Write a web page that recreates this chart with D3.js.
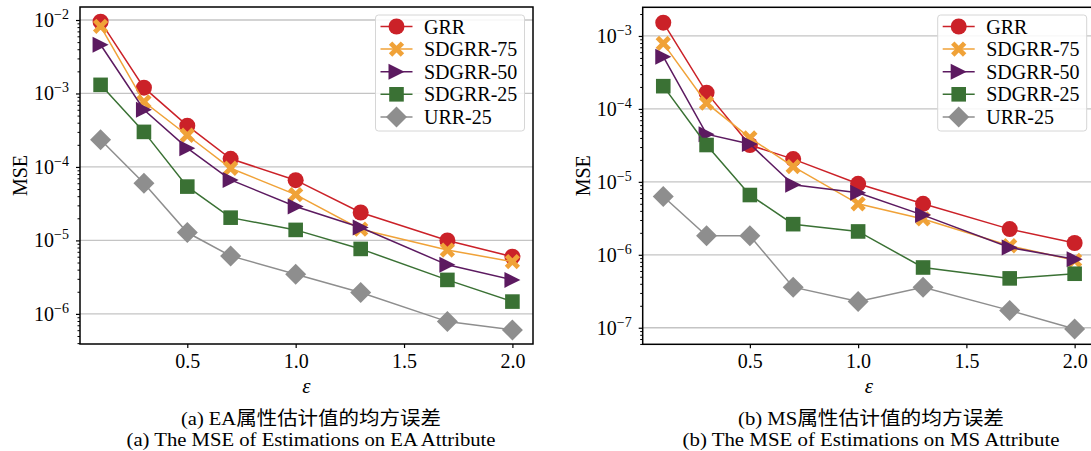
<!DOCTYPE html>
<html lang="en">
<head>
  <meta charset="UTF-8">
  <script src="https://cdn.jsdelivr.net/npm/d3@7"></script>
  <title>MSE of Estimations</title>
  <style>
    body { margin: 0; background: #fff; }
    svg text { font-family: "Liberation Serif", "Times New Roman", "Noto Sans CJK SC", serif; fill: #000; }
  </style>
</head>
<body>
  <svg width="1091" height="451" id="chart"></svg>
  <script>

    // epsilon values on the x-axis
    let eps = [0.1, 0.3, 0.5, 0.7, 1.0, 1.3, 1.7, 2.0];
    let seriesNames = ["GRR", "SDGRR-75", "SDGRR-50", "SDGRR-25", "URR-25"];
    let xTicks = [0.5, 1.0, 1.5, 2.0];

    // (a) EA attribute
    let eaGRR     = [9.5e-3, 1.2e-3, 3.65e-4, 1.29e-4, 6.6e-5, 2.4e-5, 1.0e-5, 6.0e-6];
    let eaSD75    = [8.2e-3, 7.7e-4, 2.7e-4, 9.6e-5, 4.2e-5, 1.42e-5, 7.4e-6, 5.15e-6];
    let eaSD50    = [4.6e-3, 6.0e-4, 1.8e-4, 6.65e-5, 2.9e-5, 1.5e-5, 4.65e-6, 2.9e-6];
    let eaSD25    = [1.31e-3, 3.0e-4, 5.4e-5, 2.04e-5, 1.39e-5, 7.66e-6, 2.9e-6, 1.47e-6];
    let eaURR     = [2.35e-4, 6.0e-5, 1.28e-5, 6.15e-6, 3.47e-6, 1.95e-6, 7.85e-7, 6.05e-7];

    // (b) MS attribute
    let msGRR     = [1.52e-3, 1.67e-4, 3.2e-5, 2.05e-5, 9.4e-6, 5.0e-6, 2.25e-6, 1.45e-6];
    let msSD75    = [7.9e-4, 1.2e-4, 4.0e-5, 1.62e-5, 5.0e-6, 3.1e-6, 1.33e-6, 8.4e-7];
    let msSD50    = [5.2e-4, 4.5e-5, 3.3e-5, 9.1e-6, 7.1e-6, 3.5e-6, 1.26e-6, 8.7e-7];
    let msSD25    = [2.05e-4, 3.2e-5, 6.6e-6, 2.63e-6, 2.09e-6, 6.7e-7, 4.75e-7, 5.5e-7];
    let msURR     = [6.3e-6, 1.82e-6, 1.82e-6, 3.6e-7, 2.29e-7, 3.6e-7, 1.73e-7, 9.6e-8];

    let colors  = ["#cb2128", "#f0a238", "#5c1a60", "#3a7134", "#8e8e8e"];
    let shapes  = ["circle", "x", "tri", "square", "diamond"];

    let svg = d3.select("#chart");

    // marker paths centred on 0,0
    function markerPath(shape) {
      if (shape == "circle") return d3.symbol(d3.symbolCircle, Math.PI * 8 * 8)();
      if (shape == "square") return "M-7.3,-7.3H7.3V7.3H-7.3Z";
      if (shape == "diamond") return "M0,-10.5L10.5,0L0,10.5L-10.5,0Z";
      if (shape == "tri") return "M8,0L-8,-8L-8,8Z";
      // filled X: a plus rotated by 45 degrees
      let h = 8.4, w = 2.4;
      let pts = [[w,-h],[w,-w],[h,-w],[h,w],[w,w],[w,h],[-w,h],[-w,w],[-h,w],[-h,-w],[-w,-w],[-w,-h]];
      let c = Math.SQRT1_2;
      return "M" + pts.map(p => [(p[0]-p[1])*c, (p[0]+p[1])*c].map(v => v.toFixed(2)).join(",")).join("L") + "Z";
    }

    function drawPanel(p) {
      let g = svg.append("g");

      let scaleX = d3.scaleLinear().domain([0.005, 2.095]).range([p.left, p.right]);
      let scaleY = d3.scaleLog().domain(p.yDomain).range([p.bottom, p.top]);

      // decades inside the domain
      let lo = Math.ceil(Math.log10(p.yDomain[0]) - 1e-9), hi = Math.floor(Math.log10(p.yDomain[1]) + 1e-9);
      let majors = d3.range(lo, hi + 1).map(e => Math.pow(10, e));
      let minors = [];
      for (let e = lo - 1; e <= hi; e++) {
        for (let m = 2; m <= 9; m++) {
          let v = m * Math.pow(10, e);
          if (v >= p.yDomain[0] && v <= p.yDomain[1]) minors.push(v);
        }
      }

      // horizontal grid
      g.selectAll(".grid").data(majors).enter().append("line")
        .attr("x1", p.left).attr("x2", p.right)
        .attr("y1", d => scaleY(d)).attr("y2", d => scaleY(d))
        .attr("stroke", "#c4c4c4").attr("stroke-width", 1.3);

      // y axis, major and minor ticks
      let yAxis = g.append("g").attr("transform", `translate(${p.left},0)`)
        .call(d3.axisLeft(scaleY).tickValues(majors).tickSize(4).tickPadding(7).tickFormat(""));
      yAxis.select(".domain").remove();
      yAxis.selectAll(".tick line").attr("stroke-width", 1.2);
      yAxis.selectAll(".tick text").each(function(d) {
        let t = d3.select(this).attr("font-size", 20).attr("dy", "0.32em");
        t.append("tspan").text("10");
        t.append("tspan").attr("dy", -8).attr("font-size", 14).text("\u2212" + Math.abs(Math.round(Math.log10(d))));
      });
      let yMinor = g.append("g").attr("transform", `translate(${p.left},0)`)
        .call(d3.axisLeft(scaleY).tickValues(minors).tickSize(2.5).tickFormat(""));
      yMinor.select(".domain").remove();
      yMinor.selectAll(".tick line").attr("stroke-width", 1);

      // x axis
      let xAxis = g.append("g").attr("transform", `translate(0,${p.bottom})`)
        .call(d3.axisBottom(scaleX).tickValues(xTicks).tickSize(4).tickPadding(6).tickFormat(d3.format(".1f")));
      xAxis.select(".domain").remove();
      xAxis.selectAll(".tick line").attr("stroke-width", 1.2);
      xAxis.selectAll(".tick text").attr("font-size", 20);

      // series: line then markers
      p.values.forEach((vals, i) => {
        let line = d3.line().x((d, j) => scaleX(eps[j])).y(d => scaleY(d));
        g.append("path").datum(vals)
          .attr("d", line).attr("fill", "none")
          .attr("stroke", colors[i]).attr("stroke-width", 1.5);
        g.selectAll(".m" + i).data(vals).enter().append("path")
          .attr("d", markerPath(shapes[i]))
          .attr("transform", (d, j) => `translate(${scaleX(eps[j])},${scaleY(d)})`)
          .attr("fill", colors[i]);
      });

      // frame
      g.append("rect")
        .attr("x", p.left).attr("y", p.top)
        .attr("width", p.right - p.left).attr("height", p.bottom - p.top)
        .attr("fill", "none").attr("stroke", "#000").attr("stroke-width", 1.5);

      // legend
      let lx = p.right - 8.5 - 149, ly = 15;
      let leg = g.append("g").attr("transform", `translate(${lx},${ly})`);
      leg.append("rect").attr("width", 149).attr("height", 116).attr("rx", 3)
        .attr("fill", "#fff").attr("fill-opacity", 0.85)
        .attr("stroke", "#d6d6d6").attr("stroke-width", 1);
      seriesNames.forEach((name, i) => {
        let yy = 11.5 + i * 22.6;
        leg.append("line").attr("x1", 5).attr("x2", 37).attr("y1", yy).attr("y2", yy)
          .attr("stroke", colors[i]).attr("stroke-width", 1.5);
        leg.append("path").attr("d", markerPath(shapes[i]))
          .attr("transform", `translate(21,${yy})`).attr("fill", colors[i]);
        leg.append("text").attr("x", 48.5).attr("y", yy + 7).attr("font-size", 20).text(name);
      });

      // axis labels
      let cx = (p.left + p.right) / 2;
      g.append("text").attr("transform", `translate(${p.left - 53},${(p.top + p.bottom) / 2}) rotate(-90)`)
        .attr("text-anchor", "middle").attr("font-size", 20).text("MSE");
      g.append("text").attr("x", cx).attr("y", 393).attr("text-anchor", "middle")
        .attr("font-size", 21).attr("font-style", "italic").text("\u03b5");

      // captions
      g.append("text").attr("x", p.capX).attr("y", 425).attr("text-anchor", "middle")
        .attr("font-size", 19).attr("textLength", p.capW[0]).attr("lengthAdjust", "spacingAndGlyphs")
        .text(p.captions[0]);
      g.append("text").attr("x", p.capX).attr("y", 446).attr("text-anchor", "middle")
        .attr("font-size", 18).attr("textLength", p.capW[1]).attr("lengthAdjust", "spacingAndGlyphs")
        .text(p.captions[1]);
    }

    drawPanel({
      left: 80, right: 533, top: 7, bottom: 344,
      yDomain: [Math.pow(10, -6.41), Math.pow(10, -1.823)],
      values: [eaGRR, eaSD75, eaSD50, eaSD25, eaURR],
      capX: 311, capW: [260, 369],
      captions: ["(a) EA属性估计值的均方误差", "(a) The MSE of Estimations on EA Attribute"]
    });

    drawPanel({
      left: 642.7, right: 1095.2, top: 7.3, bottom: 344.3,
      yDomain: [Math.pow(10, -7.227), Math.pow(10, -2.607)],
      values: [msGRR, msSD75, msSD50, msSD25, msURR],
      capX: 871, capW: [266, 377],
      captions: ["(b) MS属性估计值的均方误差", "(b) The MSE of Estimations on MS Attribute"]
    });
  </script>
</body>
</html>
